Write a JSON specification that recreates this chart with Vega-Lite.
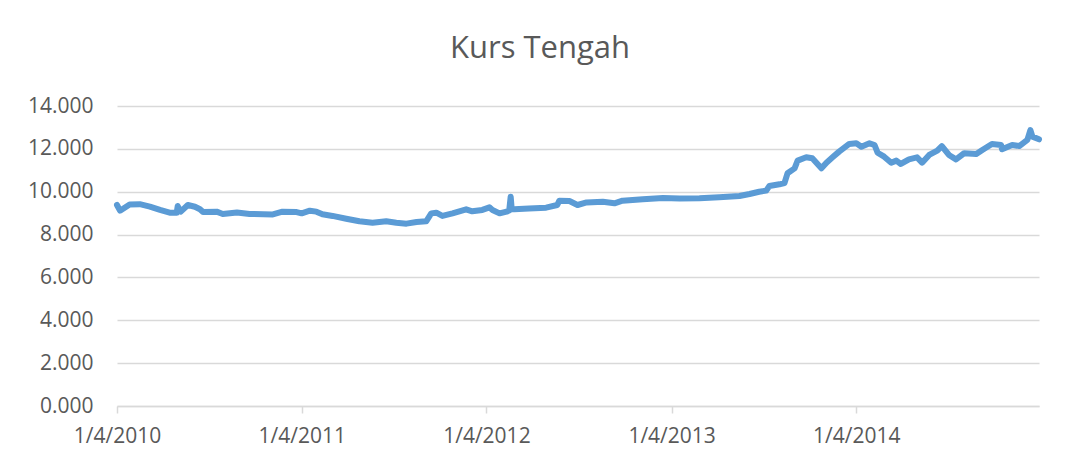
{
  "$schema": "https://vega.github.io/schema/vega-lite/v6.json",
  "autosize": {"type": "none"},
  "width": 922,
  "height": 300,
  "padding": {"left": 117, "top": 106, "right": 29, "bottom": 55},
  "background": "white",
  "title": {
    "text": "Kurs Tengah",
    "font": "Open Sans",
    "fontSize": 31,
    "fontWeight": "normal",
    "color": "#595959",
    "anchor": "middle",
    "offset": 30,
    "dx": -38
  },
  "config": {"view": {"stroke": null}},
  "data": {
    "values": [
      {"date": "2010-01-04", "kurs": 9380},
      {"date": "2010-01-10", "kurs": 9115},
      {"date": "2010-01-29", "kurs": 9400},
      {"date": "2010-02-18", "kurs": 9420},
      {"date": "2010-03-10", "kurs": 9300},
      {"date": "2010-03-30", "kurs": 9150},
      {"date": "2010-04-18", "kurs": 9020},
      {"date": "2010-05-02", "kurs": 9020},
      {"date": "2010-05-04", "kurs": 9330},
      {"date": "2010-05-10", "kurs": 9070},
      {"date": "2010-05-24", "kurs": 9380},
      {"date": "2010-06-07", "kurs": 9300},
      {"date": "2010-06-17", "kurs": 9180},
      {"date": "2010-06-23", "kurs": 9050},
      {"date": "2010-07-20", "kurs": 9070},
      {"date": "2010-08-01", "kurs": 8960},
      {"date": "2010-08-29", "kurs": 9030},
      {"date": "2010-09-23", "kurs": 8960},
      {"date": "2010-11-08", "kurs": 8940},
      {"date": "2010-11-27", "kurs": 9070},
      {"date": "2010-12-25", "kurs": 9050},
      {"date": "2011-01-04", "kurs": 8990},
      {"date": "2011-01-20", "kurs": 9115},
      {"date": "2011-02-02", "kurs": 9070},
      {"date": "2011-02-14", "kurs": 8945},
      {"date": "2011-03-06", "kurs": 8870},
      {"date": "2011-04-02", "kurs": 8740},
      {"date": "2011-04-28", "kurs": 8620},
      {"date": "2011-05-24", "kurs": 8555},
      {"date": "2011-06-20", "kurs": 8620},
      {"date": "2011-07-10", "kurs": 8555},
      {"date": "2011-07-30", "kurs": 8510},
      {"date": "2011-08-19", "kurs": 8590},
      {"date": "2011-09-07", "kurs": 8620},
      {"date": "2011-09-17", "kurs": 8990},
      {"date": "2011-09-27", "kurs": 9020},
      {"date": "2011-10-09", "kurs": 8870},
      {"date": "2011-10-29", "kurs": 8990},
      {"date": "2011-11-25", "kurs": 9180},
      {"date": "2011-12-07", "kurs": 9085},
      {"date": "2011-12-27", "kurs": 9150},
      {"date": "2012-01-10", "kurs": 9270},
      {"date": "2012-01-16", "kurs": 9150},
      {"date": "2012-01-30", "kurs": 8990},
      {"date": "2012-02-13", "kurs": 9070},
      {"date": "2012-02-18", "kurs": 9120},
      {"date": "2012-02-21", "kurs": 9770},
      {"date": "2012-02-23", "kurs": 9180},
      {"date": "2012-02-28", "kurs": 9180},
      {"date": "2012-03-28", "kurs": 9220},
      {"date": "2012-05-01", "kurs": 9255},
      {"date": "2012-05-23", "kurs": 9380},
      {"date": "2012-05-27", "kurs": 9580},
      {"date": "2012-06-16", "kurs": 9565},
      {"date": "2012-07-02", "kurs": 9380},
      {"date": "2012-07-20", "kurs": 9500},
      {"date": "2012-08-21", "kurs": 9535},
      {"date": "2012-09-13", "kurs": 9460},
      {"date": "2012-09-29", "kurs": 9580},
      {"date": "2012-11-08", "kurs": 9645},
      {"date": "2012-12-18", "kurs": 9705},
      {"date": "2013-01-20", "kurs": 9680},
      {"date": "2013-02-28", "kurs": 9690},
      {"date": "2013-04-08", "kurs": 9740},
      {"date": "2013-05-18", "kurs": 9800},
      {"date": "2013-06-07", "kurs": 9895},
      {"date": "2013-06-26", "kurs": 10000},
      {"date": "2013-07-10", "kurs": 10050},
      {"date": "2013-07-16", "kurs": 10265},
      {"date": "2013-08-05", "kurs": 10345},
      {"date": "2013-08-15", "kurs": 10400},
      {"date": "2013-08-21", "kurs": 10860},
      {"date": "2013-09-04", "kurs": 11090},
      {"date": "2013-09-10", "kurs": 11450},
      {"date": "2013-09-27", "kurs": 11605},
      {"date": "2013-10-09", "kurs": 11560},
      {"date": "2013-10-27", "kurs": 11090},
      {"date": "2013-11-06", "kurs": 11355},
      {"date": "2013-11-18", "kurs": 11605},
      {"date": "2013-12-01", "kurs": 11870},
      {"date": "2013-12-21", "kurs": 12230},
      {"date": "2014-01-04", "kurs": 12260},
      {"date": "2014-01-14", "kurs": 12100},
      {"date": "2014-01-30", "kurs": 12260},
      {"date": "2014-02-09", "kurs": 12180},
      {"date": "2014-02-15", "kurs": 11820},
      {"date": "2014-02-28", "kurs": 11635},
      {"date": "2014-03-14", "kurs": 11355},
      {"date": "2014-03-24", "kurs": 11450},
      {"date": "2014-04-02", "kurs": 11295},
      {"date": "2014-04-18", "kurs": 11510},
      {"date": "2014-05-04", "kurs": 11605},
      {"date": "2014-05-14", "kurs": 11355},
      {"date": "2014-05-28", "kurs": 11715},
      {"date": "2014-06-13", "kurs": 11915},
      {"date": "2014-06-22", "kurs": 12130},
      {"date": "2014-07-06", "kurs": 11715},
      {"date": "2014-07-20", "kurs": 11510},
      {"date": "2014-08-05", "kurs": 11795},
      {"date": "2014-08-29", "kurs": 11760},
      {"date": "2014-09-10", "kurs": 11950},
      {"date": "2014-09-29", "kurs": 12230},
      {"date": "2014-10-17", "kurs": 12180},
      {"date": "2014-10-19", "kurs": 11980},
      {"date": "2014-11-08", "kurs": 12180},
      {"date": "2014-11-22", "kurs": 12130},
      {"date": "2014-12-08", "kurs": 12415},
      {"date": "2014-12-14", "kurs": 12880},
      {"date": "2014-12-18", "kurs": 12570},
      {"date": "2014-12-31", "kurs": 12445}
    ]
  },
  "mark": {
    "type": "line",
    "color": "#5B9BD5",
    "strokeWidth": 6,
    "strokeCap": "round",
    "strokeJoin": "round"
  },
  "encoding": {
    "x": {
      "field": "date",
      "type": "temporal",
      "scale": {
        "type": "utc",
        "domain": [
          {"year": 2010, "month": 1, "date": 4, "utc": true},
          {"year": 2014, "month": 12, "date": 31, "utc": true}
        ]
      },
      "axis": {
        "title": null,
        "values": [
          {"year": 2010, "month": 1, "date": 4, "utc": true},
          {"year": 2011, "month": 1, "date": 4, "utc": true},
          {"year": 2012, "month": 1, "date": 4, "utc": true},
          {"year": 2013, "month": 1, "date": 4, "utc": true},
          {"year": 2014, "month": 1, "date": 4, "utc": true}
        ],
        "labelExpr": "utcFormat(datum.value, '%-m/%-d/%Y')",
        "grid": false,
        "domain": true,
        "domainColor": "#d9d9d9",
        "domainWidth": 1.5,
        "ticks": true,
        "tickColor": "#d9d9d9",
        "tickWidth": 1.5,
        "tickSize": 7,
        "labelPadding": 12,
        "labelFont": "Open Sans",
        "labelFontSize": 21,
        "labelColor": "#595959",
        "labelFlush": false,
        "labelOverlap": false
      }
    },
    "y": {
      "field": "kurs",
      "type": "quantitative",
      "scale": {"domain": [0, 14000], "nice": false, "zero": true},
      "axis": {
        "title": null,
        "values": [0, 2000, 4000, 6000, 8000, 10000, 12000, 14000],
        "labelExpr": "format(datum.value / 1000, '.3f')",
        "grid": true,
        "gridColor": "#d9d9d9",
        "gridWidth": 1.5,
        "domain": false,
        "ticks": false,
        "labelPadding": 24,
        "labelFont": "Open Sans",
        "labelFontSize": 21,
        "labelColor": "#595959"
      }
    }
  }
}
